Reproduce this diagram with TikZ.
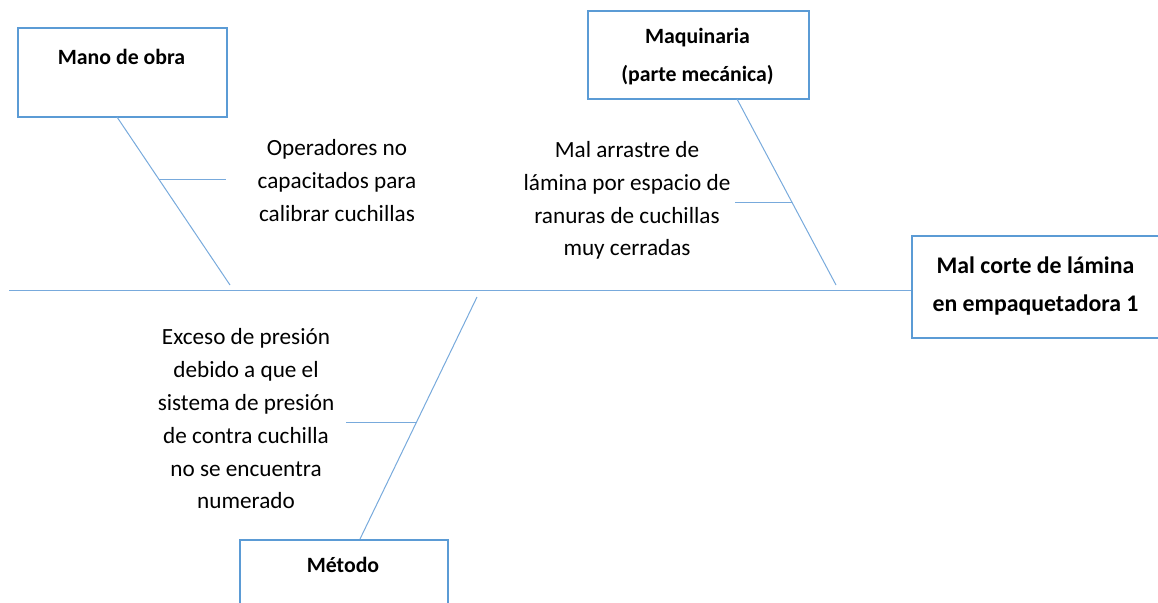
\documentclass[tikz,border=0pt]{standalone}
\usepackage{fontspec}
\setmainfont{Carlito}
\begin{document}
\begin{tikzpicture}[x=1pt,y=-1pt,
  box/.style={draw=boxblue, line width=1.6pt, fill=white, anchor=north west, inner sep=0pt},
  head/.style={font=\fontsize{21.8}{38}\selectfont\bfseries, align=center, inner sep=0pt},
  effecthead/.style={font=\fontsize{23.8}{38}\selectfont\bfseries, align=center, inner sep=0pt},
  cause/.style={font=\fontsize{23.2}{32.8}\selectfont, align=center, inner sep=0pt},
  bone/.style={draw=lineblue, line width=1pt}]
\definecolor{boxblue}{RGB}{91,155,213}
\definecolor{lineblue}{RGB}{120,170,220}
\clip (0,0) rectangle (1158,602);
% boxes
\node[box, minimum width=209pt, minimum height=89pt] (mano) at (17,27) {};
\node[head] (manot) at (121.5,57) {Mano de obra};
\node[box, minimum width=221pt, minimum height=88pt] (maq) at (587,10) {};
\node[head] (maqt) at (697.5,56.5) {Maquinaria\\(parte mecánica)};
\node[box, minimum width=260pt, minimum height=102pt] (efecto) at (911,235) {};
\node[effecthead] (efectot) at (1035.5,286) {Mal corte de lámina\\en empaquetadora 1};
\node[box, minimum width=208pt, minimum height=80pt] (metodo) at (239,539) {};
\node[head] (metodot) at (343,565) {Método};
% spine
\coordinate (s0) at (9,290);
\draw[bone] (s0) -- (s0 -| efecto.west);
% bones
\coordinate (b1a) at (117,117);
\coordinate (b1b) at (230,285);
\draw[bone] (b1a) -- (b1b);
\coordinate (b2a) at (737,99);
\coordinate (b2b) at (836,285);
\draw[bone] (b2a) -- (b2b);
\coordinate (b3a) at (477,297);
\coordinate (b3b) at (360,539);
\draw[bone] (b3a) -- (b3b);
% sub-bones
\coordinate (c1) at (158.7,179);
\coordinate (c1e) at (226,179);
\draw[bone] (c1) -- (c1e);
\coordinate (c2) at (791.8,202);
\coordinate (c2e) at (735,202);
\draw[bone] (c2) -- (c2e);
\coordinate (c3) at (416.6,422);
\coordinate (c3e) at (346,422);
\draw[bone] (c3) -- (c3e);
% causes
\node[cause] (t1) at (337,180.5) {Operadores no\\capacitados para\\calibrar cuchillas};
\node[cause] (t2) at (627,200.5) {Mal arrastre de\\lámina por espacio de\\ranuras de cuchillas\\muy cerradas};
\node[cause] (t3) at (246,419) {Exceso de presión\\debido a que el\\sistema de presión\\de contra cuchilla\\no se encuentra\\numerado};
\end{tikzpicture}
\end{document}
